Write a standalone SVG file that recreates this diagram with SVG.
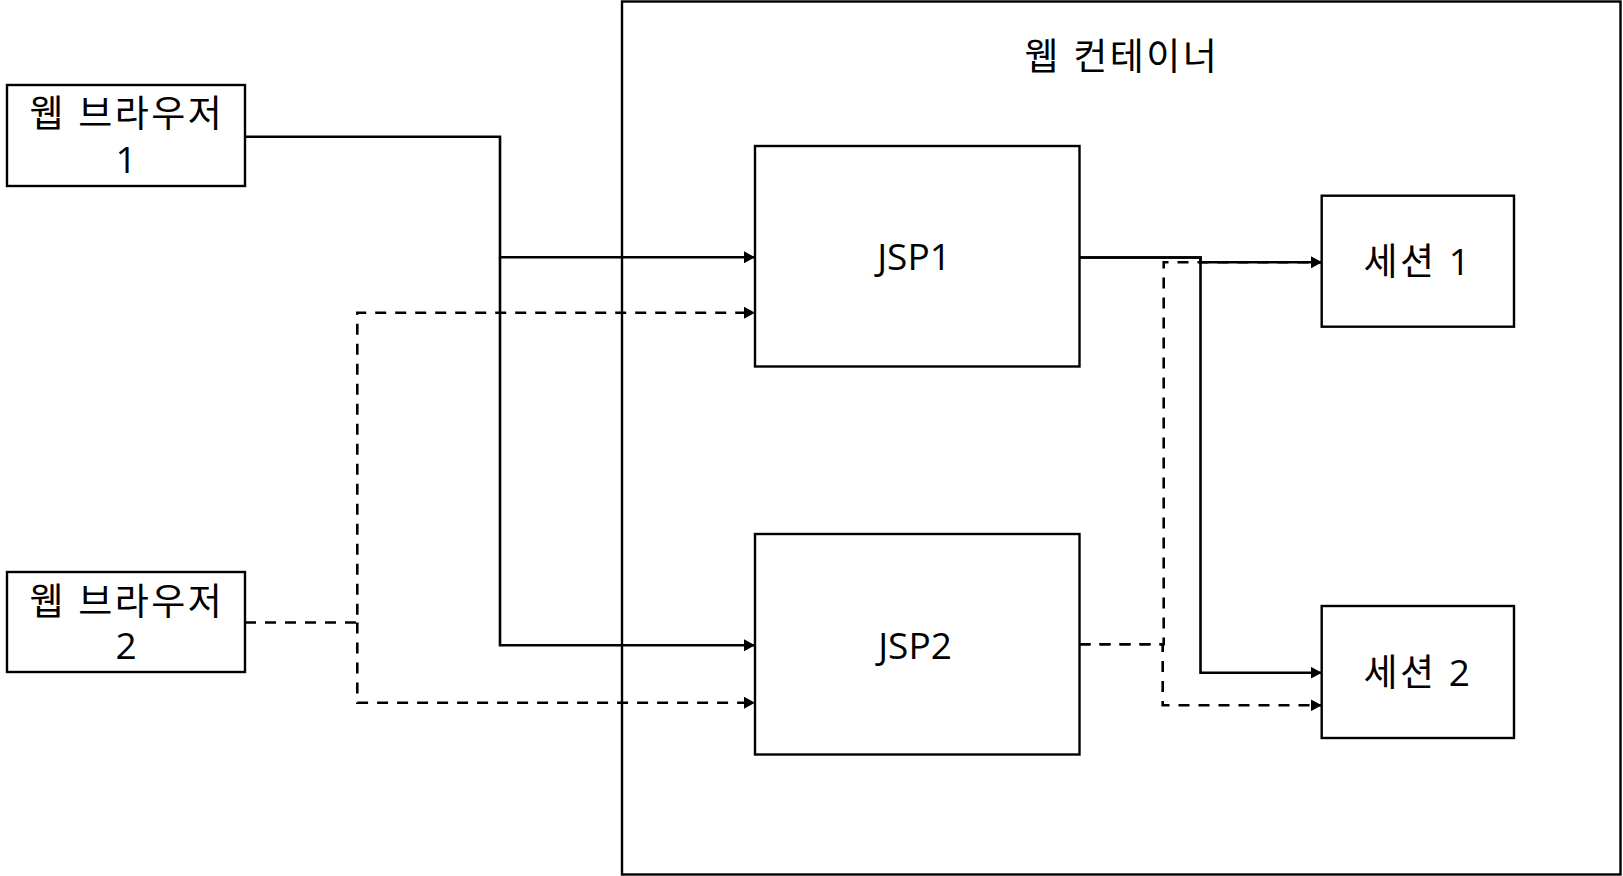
<svg xmlns="http://www.w3.org/2000/svg" width="1623" height="876" viewBox="0 0 1623 876">
  <defs>
    <marker id="arrow" markerUnits="userSpaceOnUse" markerWidth="12" markerHeight="12" refX="11" refY="6" orient="auto">
      <path d="M0,0 L11,6 L0,12 z" fill="#000"/>
    </marker>
    <style>
      .box { fill: #fff; stroke: #000; stroke-width: 2.4; }
      .container { fill: none; stroke: #000; stroke-width: 2.4; }
      .label { font-family: "Open Sans", "Noto Sans CJK KR", sans-serif; font-size: 37px; fill: #000; text-anchor: middle; }
      .ko { letter-spacing: 2.5px; }
      .conn { fill: none; stroke: #000; stroke-width: 2.6; }
      .dash { stroke-dasharray: 11 9; }
      .arr { marker-end: url(#arrow); }
    </style>
  </defs>
  <rect width="1623" height="876" fill="#fff"/>

  <g id="web-container">
    <rect class="container" x="622" y="1.5" width="998.5" height="873"/>
    <text class="label ko" x="1122" y="70">웹 컨테이너</text>
  </g>

  <g id="connectors">
    <!-- browser 1 (solid) -->
    <path class="conn arr" d="M245,136.7 H500 V257.3 H755"/>
    <path class="conn arr" d="M500,257.3 V645.3 H755"/>
    <!-- browser 2 (dashed) -->
    <path class="conn dash arr" d="M245,622.5 H357.3 V312.7 H755"/>
    <path class="conn dash arr" d="M357.3,622.5 V702.7 H755"/>
    <!-- JSP1 to sessions (solid) -->
    <path class="conn arr" d="M1079.5,257.5 H1200.5 V262.3 H1321.7"/>
    <path class="conn arr" d="M1079.5,257.5 H1200.5 V672.7 H1321.7"/>
    <!-- JSP2 to sessions (dashed) -->
    <path class="conn dash arr" d="M1079.5,644.3 H1163.7 V262.3 H1321.7"/>
    <path class="conn dash arr" d="M1079.5,644.3 H1162.7 V705.3 H1321.7"/>
  </g>

  <g id="browser1">
    <rect class="box" x="7" y="85" width="238" height="101"/>
    <text class="label"><tspan class="ko" x="127" y="127">웹 브라우저</tspan><tspan x="126" y="172.5">1</tspan></text>
  </g>

  <g id="browser2">
    <rect class="box" x="7" y="572" width="238" height="100"/>
    <text class="label"><tspan class="ko" x="127" y="614.5">웹 브라우저</tspan><tspan x="126" y="659">2</tspan></text>
  </g>

  <g id="jsp1">
    <rect class="box" x="755" y="146" width="324.5" height="220.5"/>
    <text class="label" x="914" y="270">JSP1</text>
  </g>

  <g id="jsp2">
    <rect class="box" x="755" y="534" width="324.5" height="220.5"/>
    <text class="label" x="915" y="659">JSP2</text>
  </g>

  <g id="session1">
    <rect class="box" x="1321.7" y="195.7" width="192.3" height="131"/>
    <text class="label ko" x="1418" y="275">세션 1</text>
  </g>

  <g id="session2">
    <rect class="box" x="1321.7" y="606" width="192.3" height="132"/>
    <text class="label ko" x="1418" y="686">세션 2</text>
  </g>
</svg>
